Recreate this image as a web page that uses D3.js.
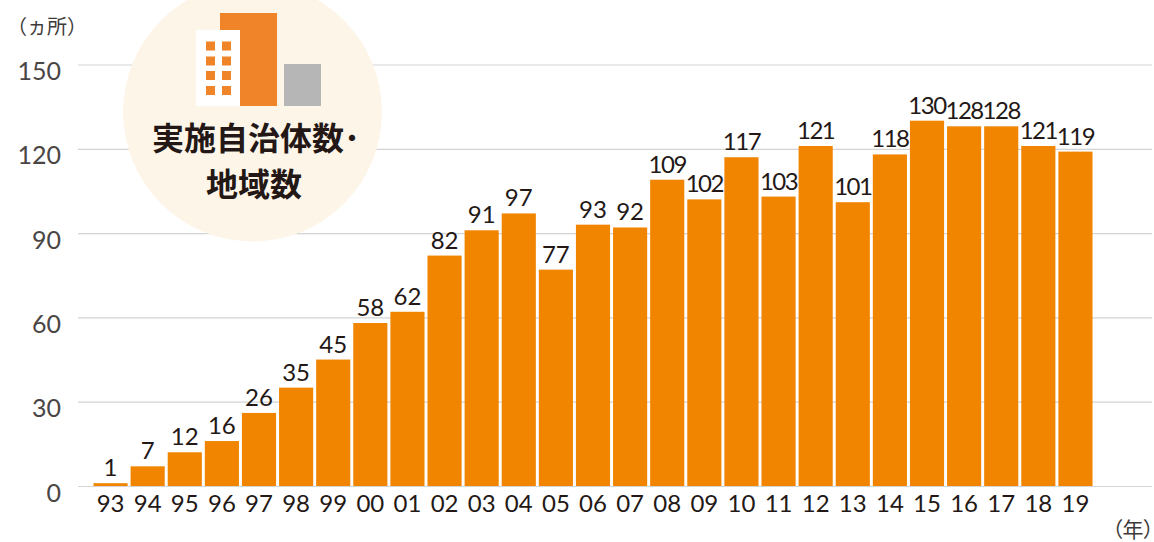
<!DOCTYPE html>
<html>
<head>
<meta charset="utf-8">
<script src="https://cdn.jsdelivr.net/npm/d3@7"></script>
<style>
html, body { margin: 0; padding: 0; background: #fff; }
svg { display: block; }
</style>
</head>
<body>
<svg id="chart"></svg>
<script>
var years = ["93","94","95","96","97","98","99","00","01","02","03","04","05","06","07","08","09","10","11","12","13","14","15","16","17","18","19"];
var counts = [1,7,12,16,26,35,45,58,62,82,91,97,77,93,92,109,102,117,103,121,101,118,130,128,128,121,119];
var yTicks = [0,30,60,90,120,150];
var badgeLines = ["実施自治体数･","地域数"];

var dimensions = {
    width: 1154,
    height: 542,
    margin: { top: 64.5, bottom: 56, right: 2, left: 78 }
}

var svg = d3.select("#chart")
            .attr("width", dimensions.width)
            .attr("height", dimensions.height)

var latin = "Lato, sans-serif";
var cjk = "'Noto Sans CJK JP', sans-serif";

var xScale = d3.scaleBand()
               .domain(years)
               .range([92, 1094])
               .paddingInner(0.08)
               .paddingOuter(0.04)

var yScale = d3.scaleLinear()
               .domain([0, 150])
               .range([dimensions.height - dimensions.margin.bottom, dimensions.margin.top])

//gridlines + y labels
var yAxisGen = d3.axisLeft(yScale)
                 .tickValues(yTicks)
                 .tickSize(-(dimensions.width - dimensions.margin.left - dimensions.margin.right))
                 .tickPadding(17)
var yAxis = svg.append("g")
               .attr("transform", "translate(" + dimensions.margin.left + ",0)")
               .call(yAxisGen)
yAxis.select(".domain").remove();
yAxis.selectAll("line").style("stroke", "#d4d4d4").style("stroke-width", 1.2);
yAxis.selectAll("text")
     .attr("dy", "0.6em")
     .style("font-family", latin)
     .style("font-size", "25px")
     .style("fill", "#4a4645");

//badge sits over the gridlines
var badge = svg.append("g");
badge.append("circle").attr("cx", 252.5).attr("cy", 112).attr("r", 129.5).style("fill", "#fef5e9");
badge.append("rect").attr("x", 220).attr("y", 13).attr("width", 57).attr("height", 93).style("fill", "#f08429");
badge.append("rect").attr("x", 196).attr("y", 30).attr("width", 44).attr("height", 76).style("fill", "#ffffff");
badge.append("rect").attr("x", 284).attr("y", 64).attr("width", 37).attr("height", 42).style("fill", "#b5b6b5");
[206, 222].forEach(function(wx){
    [41.5, 56.5, 71, 86].forEach(function(wy){
        badge.append("rect").attr("x", wx).attr("y", wy).attr("width", 9).attr("height", 9).style("fill", "#f08429");
    });
});
badge.selectAll("text.title")
     .data(badgeLines)
     .enter()
     .append("text")
     .attr("class", "title")
     .attr("x", function(d, i){ return i === 0 ? 152 : 206 })
     .attr("y", function(d, i){ return 150 + i * 46 })
     .style("font-family", cjk)
     .style("font-weight", 700)
     .style("font-size", "32px")
     .style("fill", "#231815")
     .text(function(d){ return d });

//bars
svg.append("g")
   .selectAll("rect")
   .data(years)
   .enter()
   .append("rect")
   .attr("x", function(d){ return xScale(d) })
   .attr("y", function(d, i){ return yScale(counts[i]) })
   .attr("width", xScale.bandwidth())
   .attr("height", function(d, i){ return yScale(0) - yScale(counts[i]) })
   .style("fill", "#f18500");

//value labels
svg.append("g")
   .selectAll("text")
   .data(years)
   .enter()
   .append("text")
   .attr("x", function(d){ return xScale(d) + xScale.bandwidth() / 2 })
   .attr("y", function(d, i){ return yScale(counts[i]) - 7 })
   .attr("text-anchor", "middle")
   .style("font-family", latin)
   .style("font-size", "24px")
   .style("letter-spacing", function(d, i){ return counts[i] >= 100 ? "-1.5px" : "0" })
   .style("fill", "#231815")
   .text(function(d, i){ return counts[i] });

//x labels
var xAxisGen = d3.axisBottom(xScale).tickSize(0).tickPadding(9)
var xAxis = svg.append("g")
               .attr("transform", "translate(0," + yScale(0) + ")")
               .call(xAxisGen)
xAxis.select(".domain").remove();
xAxis.selectAll("text")
     .style("font-family", latin)
     .style("font-size", "24px")
     .style("fill", "#231815");

//unit labels
svg.append("text")
   .attr("x", 7)
   .attr("y", 34)
   .style("font-family", cjk)
   .style("font-size", "20px")
   .style("fill", "#3e3a39")
   .text("（ヵ所）");

svg.append("text")
   .attr("x", 1112)
   .attr("y", 537)
   .style("font-family", cjk)
   .style("font-feature-settings", "'palt'")
   .style("font-size", "21px")
   .style("fill", "#3e3a39")
   .text("（年）");
</script>
</body>
</html>
